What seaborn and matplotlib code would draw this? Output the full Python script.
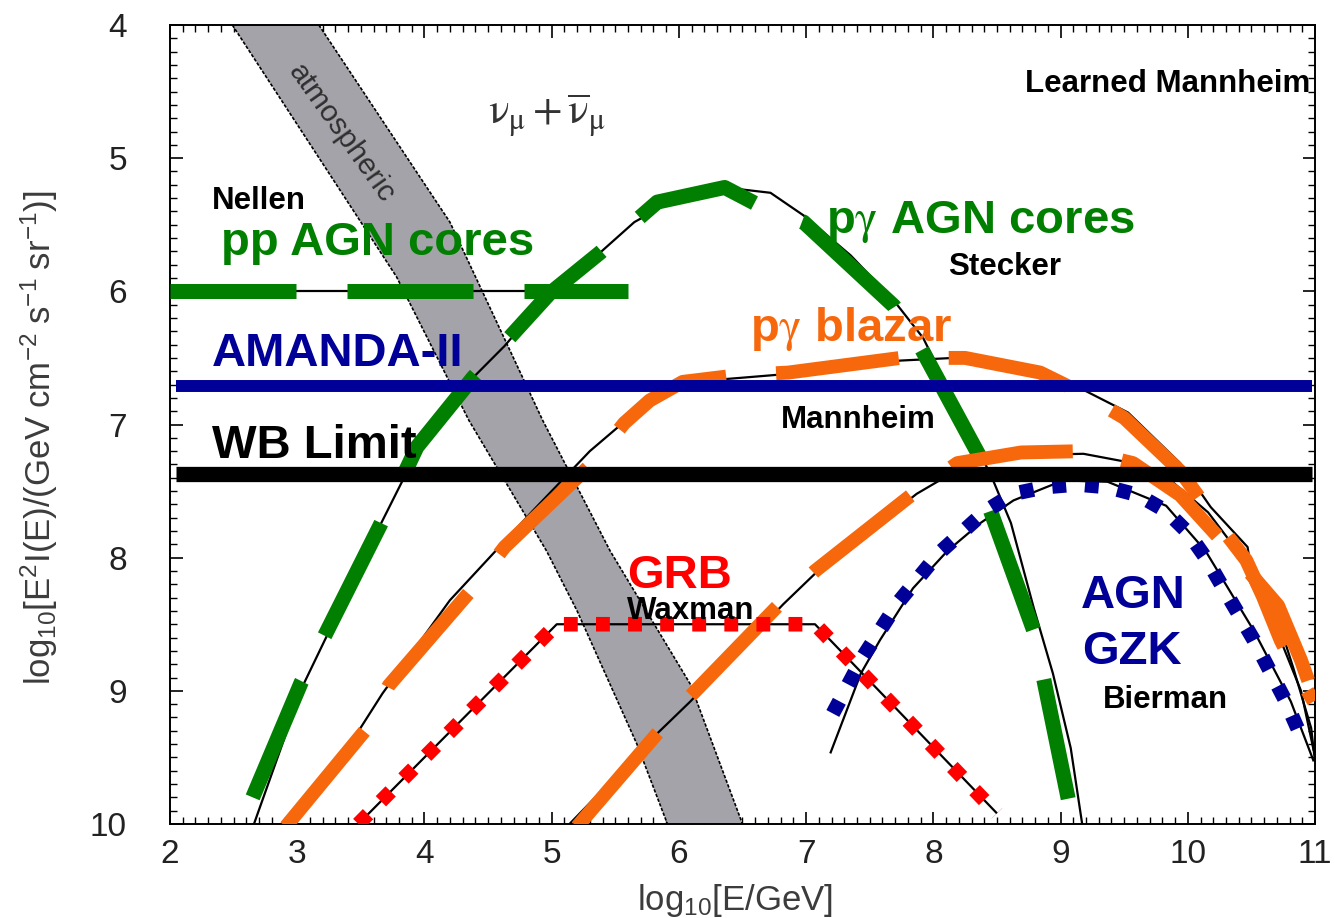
import matplotlib
matplotlib.use("Agg")
import matplotlib.pyplot as plt
from matplotlib.ticker import MultipleLocator
import numpy as np
import pandas as pd
import seaborn as sns

# x: log10(E/GeV), y: log10[E^2 I(E)] (axis runs downward)

# atmospheric neutrino band, left and right edges
atm_left_x = [2.49, 3.78, 4.35, 4.96, 5.20, 5.67, 5.91]
atm_left_y = [4.00, 5.89, 6.97, 7.95, 8.40, 9.40, 10.00]
atm_right_x = [3.17, 4.20, 4.93, 5.46, 6.09, 6.50]
atm_right_y = [4.00, 5.48, 6.97, 7.95, 8.95, 10.00]

# Nellen: pp AGN cores
nellen_x = [2.0, 5.6]
nellen_y = [6.0, 6.0]

# Stecker: p-gamma AGN cores (model curve and highlighted track)
stecker_x = [2.66, 3.05, 3.65, 3.96, 4.38, 4.63, 4.98, 5.38, 5.65, 6.01, 6.36,
             6.72, 6.98, 7.35, 7.69, 7.92, 8.37, 8.47, 8.61, 8.79, 8.94, 9.08, 9.17]
stecker_y = [10.0, 8.95, 7.76, 7.17, 6.65, 6.41, 6.02, 5.71, 5.48, 5.29, 5.22,
             5.26, 5.43, 5.73, 6.07, 6.35, 7.22, 7.42, 7.74, 8.38, 8.87, 9.43, 10.0]
stecker_trk_x = [2.65, 3.03, 3.65, 3.94, 4.38, 4.98, 5.38, 5.65, 5.83, 6.36, 6.60,
                 6.98, 7.69, 7.90, 8.37, 8.45, 8.79, 9.06]
stecker_trk_y = [9.80, 8.94, 7.76, 7.17, 6.65, 6.02, 5.71, 5.48, 5.33, 5.22, 5.34,
                 5.48, 6.11, 6.42, 7.25, 7.65, 8.55, 9.81]

# Mannheim: p-gamma blazar, upper model
blz1_x = [2.90, 3.43, 3.67, 4.20, 4.85, 5.30, 5.57, 5.83, 6.09, 6.48, 6.86, 7.74,
          8.16, 8.53, 9.18, 9.53, 9.94, 10.18, 10.47, 10.52, 10.73, 10.83, 10.97, 11.0]
blz1_y = [10.0, 9.38, 9.02, 8.32, 7.65, 7.20, 6.98, 6.76, 6.68, 6.65, 6.62, 6.52,
          6.50, 6.54, 6.74, 6.91, 7.29, 7.62, 7.92, 8.23, 8.53, 8.83, 9.28, 9.53]
blz1_trk_x = [2.91, 3.54, 3.72, 4.38, 4.63, 5.32, 5.57, 5.77, 6.03, 6.46, 6.86, 7.74,
              8.25, 8.84, 9.18, 9.50, 9.94, 10.22, 10.46, 10.59, 10.73, 10.89, 10.99]
blz1_trk_y = [10.02, 9.29, 8.96, 8.23, 7.92, 7.29, 6.99, 6.82, 6.68, 6.63, 6.61, 6.50,
              6.50, 6.61, 6.77, 6.95, 7.35, 7.72, 8.02, 8.29, 8.62, 8.92, 9.08]

# Mannheim: p-gamma blazar, lower model
blz2_x = [5.14, 5.83, 6.09, 6.82, 7.07, 7.87, 8.21, 8.69, 9.18, 9.57, 9.89, 10.16,
          10.39, 10.50, 10.73, 10.89, 10.99]
blz2_y = [10.0, 9.32, 9.08, 8.35, 8.12, 7.52, 7.33, 7.23, 7.22, 7.29, 7.44, 7.66,
          7.95, 8.20, 8.62, 9.00, 9.45]
blz2_trk_x = [5.20, 5.83, 6.07, 6.78, 7.07, 7.84, 8.19, 8.69, 9.18, 9.57, 9.94, 10.34,
              10.71, 10.89, 10.99]
blz2_trk_y = [10.02, 9.32, 9.06, 8.36, 8.10, 7.52, 7.29, 7.21, 7.20, 7.29, 7.53, 7.95,
              8.36, 8.77, 9.04]

# Waxman: GRB
grb_x = [3.48, 5.04, 7.07, 8.50]
grb_y = [10.0, 8.50, 8.50, 9.92]

# Bierman: AGN GZK (model curve and highlighted track)
gzk_x = [7.19, 7.43, 7.58, 7.84, 8.11, 8.37, 8.63, 9.02, 9.37, 9.83, 10.14, 10.52,
         10.81, 10.99]
gzk_y = [9.47, 8.87, 8.62, 8.23, 7.95, 7.74, 7.57, 7.42, 7.43, 7.61, 7.95, 8.55,
         9.08, 9.53]
gzk_trk_x = [7.21, 7.45, 7.72, 8.04, 8.41, 8.63, 8.88, 9.13, 9.37, 9.61, 9.83, 10.00,
             10.14, 10.28, 10.52, 10.76, 10.89]
gzk_trk_y = [9.17, 8.74, 8.34, 7.97, 7.65, 7.52, 7.47, 7.45, 7.47, 7.53, 7.65, 7.81,
             8.00, 8.23, 8.62, 9.06, 9.34]

# experimental limits
amanda_x = [2.05, 10.98]
amanda_y = [6.71, 6.71]
wb_x = [2.05, 10.98]
wb_y = [7.37, 7.37]

GREEN = "#007f00"
ORANGE = "#f7680d"
BLUE = "#000099"
RED = "#ff0000"
GRAY = "#a3a3a9"

sns.set_theme(style="ticks")
plt.rcParams["font.family"] = ["Liberation Sans", "DejaVu Sans"]
plt.rcParams["mathtext.fontset"] = "stix"

fig = plt.figure(figsize=(13.35, 9.18), dpi=100)
fig.patch.set_facecolor("white")
ax = fig.add_axes([170 / 1335, 94 / 918, 1145 / 1335, 799 / 918])
ax.set_facecolor("white")


def line(x, y, **kw):
    df = pd.DataFrame({"x": x, "y": y})
    sns.lineplot(data=df, x="x", y="y", sort=False, estimator=None, ax=ax,
                 legend=False, solid_capstyle="butt", **kw)


# atmospheric band
band_x = np.concatenate([atm_left_x, atm_right_x[::-1]])
band_y = np.concatenate([atm_left_y, atm_right_y[::-1]])
ax.fill(band_x, band_y, color=GRAY, lw=0, zorder=1)
edge_style = dict(color="black", lw=1.2, linestyle=(0, (2.0, 1.0)), zorder=1.5)
line(atm_left_x, atm_left_y, **edge_style)
line(atm_right_x, atm_right_y, **edge_style)

# model curves (thin)
thin = dict(color="black", lw=1.6, zorder=2)
line(nellen_x, nellen_y, **thin)
line(stecker_x, stecker_y, **thin)
line(blz1_x, blz1_y, **thin)
line(blz2_x, blz2_y, **thin)
line(grb_x, grb_y, **thin)
line(gzk_x, gzk_y, **thin)

# highlighted tracks
line(nellen_x, nellen_y, color=GREEN, lw=10.8, linestyle=(0, (8.4, 3.4)), zorder=3)
line(stecker_trk_x, stecker_trk_y, color=GREEN, lw=10.8,
     linestyle=(0, (8.4, 3.4)), zorder=3)
line(blz1_trk_x, blz1_trk_y, color=ORANGE, lw=10.0,
     linestyle=(0, (8.9, 3.6)), zorder=3)
line(blz2_trk_x, blz2_trk_y, color=ORANGE, lw=10.0,
     linestyle=(0, (8.9, 3.6)), zorder=3)
line(grb_x, grb_y, color=RED, lw=10.5, linestyle=(0, (0.95, 1.25)), zorder=3)
line(gzk_trk_x, gzk_trk_y, color=BLUE, lw=10.5, linestyle=(0, (0.95, 1.3)), zorder=3)

# limits
line(amanda_x, amanda_y, color=BLUE, lw=8.6, zorder=4)
line(wb_x, wb_y, color="black", lw=11.0, zorder=4)

# annotations
big = 34
small = 22.5
gam = r"$\mathrm{\gamma}$"
labels = [
    (8.72, 4.50, "Learned Mannheim", "black", small),
    (2.33, 5.38, "Nellen", "black", small),
    (2.40, 5.73, "pp AGN cores", GREEN, big),
    (7.16, 5.56, "p" + gam + " AGN cores", GREEN, big),
    (8.12, 5.88, "Stecker", "black", small),
    (6.56, 6.37, "p" + gam + " blazar", ORANGE, big),
    (2.33, 6.56, "AMANDA-II", BLUE, big),
    (6.80, 7.03, "Mannheim", "black", small),
    (2.33, 7.25, "WB Limit", "black", big),
    (5.59, 8.23, "GRB", RED, big),
    (5.59, 8.46, "Waxman", "black", small),
    (9.16, 8.38, "AGN", BLUE, big),
    (9.17, 8.80, "GZK", BLUE, big),
    (9.33, 9.13, "Bierman", "black", small),
]
for x, y, s, c, fs in labels:
    ax.text(x, y, s, color=c, fontsize=fs, fontweight="bold",
            ha="left", va="baseline", zorder=6)

ax.text(3.35, 4.81, "atmospheric", rotation=-54.5, rotation_mode="anchor",
        ha="center", va="center", fontsize=21.5, color="#2f2f2f", zorder=6)
ax.text(4.96, 4.68, r"$\mathrm{\nu}_\mathrm{\mu}+\overline{\mathrm{\nu}}_\mathrm{\mu}$",
        ha="center", va="center", fontsize=31, color="#333333", zorder=6)

# axes
ax.set_xlim(2, 11)
ax.set_ylim(10, 4)
ax.xaxis.set_major_locator(MultipleLocator(1))
ax.xaxis.set_minor_locator(MultipleLocator(0.1))
ax.yaxis.set_major_locator(MultipleLocator(1))
ax.yaxis.set_minor_locator(MultipleLocator(0.1))
ax.tick_params(which="both", direction="in", top=True, right=True,
               colors="black", labelcolor="#222222", labelsize=24)
ax.tick_params(which="major", length=9, width=1.2)
ax.tick_params(which="minor", length=5, width=1.0)
ax.tick_params(axis="y", which="major", pad=31)
ax.tick_params(axis="x", which="major", pad=11)
for sp in ax.spines.values():
    sp.set_linewidth(1.4)
    sp.set_color("black")

ax.set_xlabel(r"$\mathregular{log_{10}[E/GeV]}$", fontsize=25, color="#3c3c3c")
ax.set_ylabel(r"$\mathregular{log_{10}[E^2I(E)/(GeV\ cm^{-2}\ s^{-1}\ sr^{-1})]}$",
              fontsize=25, color="#3c3c3c")
ax.xaxis.set_label_coords(0.4934, -0.072)
ax.yaxis.set_label_coords(-0.096, 0.484)

fig.savefig("out.png", dpi=100, facecolor="white")
